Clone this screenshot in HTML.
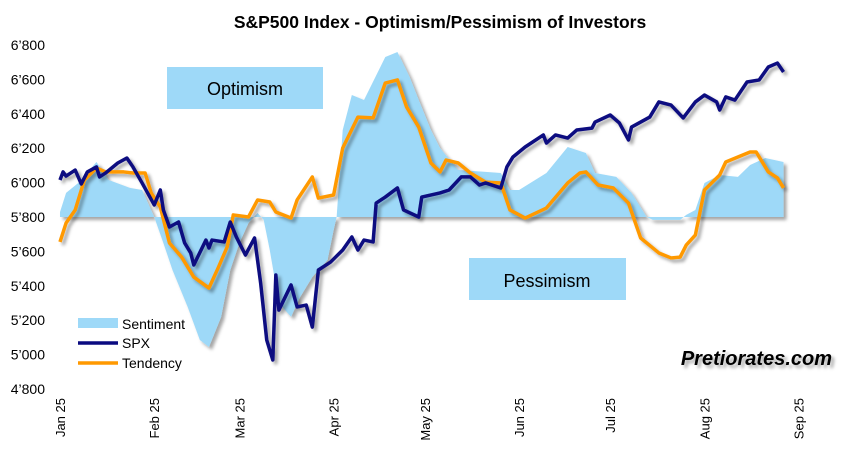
<!DOCTYPE html>
<html><head><meta charset="utf-8"><style>
body{margin:0;background:#fff;}
svg{display:block;font-family:"Liberation Sans",Arial,sans-serif;}
</style></head><body>
<svg id="chart" width="852" height="460">
<defs>
<filter id="sh" x="-5%" y="-5%" width="110%" height="110%"><feDropShadow dx="3" dy="3" stdDeviation="1.5" flood-color="#000" flood-opacity="0.35"/></filter>
</defs>
<rect width="852" height="460" fill="#fff"/>
<text x="440" y="28" text-anchor="middle" font-size="17.5" font-weight="bold">S&amp;P500 Index - Optimism/Pessimism of Investors</text>
<g id="yaxis"></g>
<g id="xaxis"></g>
<g id="area" filter="url(#sh)"></g>
<rect x="167" y="67" width="156" height="42" fill="#9ed9f8"/>
<text x="245" y="95" text-anchor="middle" font-size="18">Optimism</text>
<rect x="469" y="258" width="157" height="42" fill="#9ed9f8"/>
<text x="547" y="287" text-anchor="middle" font-size="18">Pessimism</text>
<g id="lines" filter="url(#sh)"></g>
<g>
<rect x="78" y="318" width="40" height="10" fill="#9ed9f8"/>
<text x="122" y="329" font-size="14">Sentiment</text>
<line x1="78" y1="343" x2="118" y2="343" stroke="#0a0a80" stroke-width="3.5"/>
<text x="122" y="348" font-size="14">SPX</text>
<line x1="78" y1="363" x2="118" y2="363" stroke="#ff9900" stroke-width="3.5"/>
<text x="122" y="368" font-size="14">Tendency</text>
</g>
<text x="832" y="365" text-anchor="end" font-size="20" font-weight="bold" font-style="italic" filter="url(#sh)">Pretiorates.com</text>
</svg>
<script>
const spxDays=[0,1,2,5,7,9,12,13,15,19,22,24,27,31,33,34,36,39,41,43,44,48,49,50,54,56,58,61,64,66,68,70,71,72,76,78,81,83,85,89,93,96,98,100,103,104,107,111,113,118,119,125,128,132,135,138,140,145,147,149,153,159,160,163,167,170,175,176,181,184,187,188,194,197,201,205,209,212,216,217,219,222,226,230,233,236,238];
const spxValues=[6015,6062,6038,6073,5992,6062,6091,6033,6056,6114,6143,6091,5998,5870,5957,5841,5742,5771,5649,5591,5521,5666,5620,5666,5655,5771,5684,5579,5678,5416,5085,4969,5463,5259,5405,5277,5288,5160,5492,5538,5608,5684,5608,5666,5655,5881,5916,5969,5841,5800,5916,5940,5957,6033,6033,5986,5998,5969,6091,6149,6207,6277,6230,6277,6259,6306,6317,6352,6393,6347,6248,6323,6381,6469,6451,6376,6469,6509,6469,6422,6498,6480,6585,6597,6672,6695,6643];
const tendDays=[0,2,5,8,12,15,21,24,28,30,33,36,40,44,49,52,55,57,62,65,69,71,76,78,83,85,90,93,98,103,107,111,114,118,122,125,127,131,135,140,145,148,153,160,167,171,173,177,182,187,191,197,201,204,206,209,212,217,219,227,229,233,236,238];
const tendValues=[5655,5765,5841,6015,6085,6062,6062,6056,6056,5940,5858,5649,5567,5451,5387,5503,5626,5812,5800,5899,5887,5829,5794,5899,6033,5910,5928,6201,6381,6376,6579,6597,6440,6323,6114,6062,6131,6114,6056,6003,5998,5841,5794,5852,5998,6056,6062,5986,5969,5881,5678,5591,5562,5567,5637,5695,5957,6044,6120,6178,6178,6062,6027,5969];
const sentDays=[0,2,6,12,16,23,27,31,34,37,42,46,49,53,56,59,62,65,67,69,72,76,79,83,88,90,91,93,96,100,107,111,115,118,122,125,131,140,145,148,151,160,167,173,176,183,188,193,195,204,206,209,212,217,223,227,232,238];
const sentValues=[5829,5940,5998,6120,6015,5969,5957,5800,5649,5492,5277,5085,5044,5219,5492,5649,5765,5823,5783,5608,5300,5219,5335,5451,5550,5724,5800,6306,6509,6480,6730,6759,6614,6480,6306,6201,6073,6062,6056,5957,5957,6056,6207,6172,6056,6033,5940,5800,5783,5783,5812,5841,5998,6044,6033,6102,6143,6120];
const sentBase=5800;
const yTicks=[4800,5000,5200,5400,5600,5800,6000,6200,6400,6600,6800];
const xTickDays=[0,31,59,90,120,151,181,212,243];
const xTickLabels=["Jan 25","Feb 25","Mar 25","Apr 25","May 25","Jun 25","Jul 25","Aug 25","Sep 25"];

const NS="http://www.w3.org/2000/svg";
const X=d=>60+d*3.04;
const Y=v=>45+(6800-v)*(344/2000);
function mk(tag,attrs,parent){const e=document.createElementNS(NS,tag);for(const k in attrs)e.setAttribute(k,attrs[k]);parent.appendChild(e);return e;}
const ya=document.getElementById('yaxis'),xa=document.getElementById('xaxis'),ar=document.getElementById('area'),ln=document.getElementById('lines');
yTicks.forEach(v=>{const t=mk('text',{x:45,y:Y(v)+5,'text-anchor':'end','font-size':'14'},ya);t.textContent=String(v).replace(/(\d)(\d{3})$/,"$1’$2");

});
xTickDays.forEach((d,i)=>{const x=X(d);const t=mk('text',{x:0,y:0,'text-anchor':'end','font-size':'13',transform:`translate(${x+5},398) rotate(-90)`},xa);t.textContent=xTickLabels[i];

});
let pts=`${X(sentDays[0])},${Y(sentBase)} `+sentDays.map((d,i)=>`${X(d)},${Y(sentValues[i])}`).join(' ')+` ${X(sentDays[sentDays.length-1])},${Y(sentBase)}`;
const poly=mk('polygon',{points:pts,fill:'#9ed9f8'},ar);


const tl=mk('polyline',{points:tendDays.map((d,i)=>`${X(d)},${Y(tendValues[i])}`).join(' '),fill:'none',stroke:'#ff9900','stroke-width':'3.5','stroke-linejoin':'round'},ln);


const sl=mk('polyline',{points:spxDays.map((d,i)=>`${X(d)},${Y(spxValues[i])}`).join(' '),fill:'none',stroke:'#0a0a80','stroke-width':'3.5','stroke-linejoin':'round'},ln);


</script>
</body></html>
